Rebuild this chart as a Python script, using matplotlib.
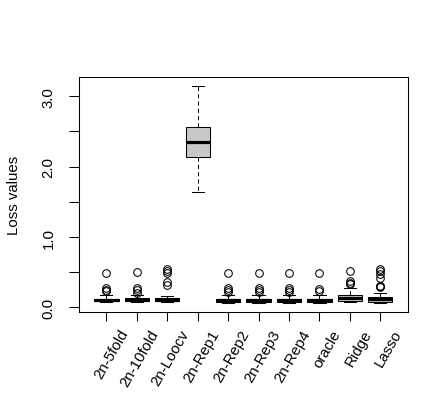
import matplotlib
matplotlib.use("Agg")
import matplotlib.pyplot as plt
import numpy as np

plt.rcParams['font.family'] = ['Liberation Sans', 'DejaVu Sans']

# boxplot summaries (loss values)
methods = ["2n-5fold", "2n-10fold", "2n-Loocv", "2n-Rep1", "2n-Rep2",
           "2n-Rep3", "2n-Rep4", "oracle", "Ridge", "Lasso"]
whis_lo = [0.07, 0.07, 0.07, 1.645, 0.065, 0.065, 0.065, 0.065, 0.07, 0.065]
q1 = [0.085, 0.09, 0.085, 2.14, 0.08, 0.08, 0.08, 0.08, 0.09, 0.08]
medians = [0.10, 0.11, 0.10, 2.355, 0.10, 0.10, 0.10, 0.10, 0.13, 0.115]
q3 = [0.125, 0.13, 0.14, 2.57, 0.12, 0.12, 0.12, 0.12, 0.18, 0.15]
whis_hi = [0.17, 0.18, 0.16, 3.15, 0.17, 0.17, 0.17, 0.17, 0.27, 0.20]
outliers = [
    [0.49, 0.28, 0.25, 0.23],
    [0.50, 0.27, 0.24, 0.21],
    [0.55, 0.52, 0.49, 0.36, 0.32],
    [],
    [0.49, 0.27, 0.24, 0.22],
    [0.49, 0.27, 0.24, 0.22],
    [0.49, 0.27, 0.24, 0.22],
    [0.49, 0.26, 0.23],
    [0.51, 0.38, 0.35, 0.33],
    [0.55, 0.52, 0.48, 0.42, 0.31, 0.30, 0.29],
]

stats = []
for i, name in enumerate(methods):
    stats.append({"label": name, "whislo": whis_lo[i], "q1": q1[i],
                  "med": medians[i], "q3": q3[i], "whishi": whis_hi[i],
                  "fliers": np.array(outliers[i])})

fig = plt.figure(figsize=(4.48, 4.10), dpi=100)
ax = fig.add_axes([79 / 448, 1 - 312.5 / 410, (407.7 - 79) / 448, (312.5 - 78) / 410])

pos = np.arange(1, len(methods) + 1)
lw = 0.75
fs = 10.8
ax.bxp(stats, positions=pos, widths=0.8, patch_artist=True, capwidths=0.4,
       boxprops=dict(facecolor="#C8C8C8", edgecolor="black", linewidth=lw),
       whiskerprops=dict(color="black", linewidth=lw, linestyle=(0, (4, 3))),
       capprops=dict(color="black", linewidth=lw),
       medianprops=dict(color="black", linewidth=2.3, solid_capstyle="butt"),
       flierprops=dict(marker="o", markerfacecolor="none", markeredgecolor="black",
                       markersize=5.5, markeredgewidth=lw))

# R style limits: 4% padding around the data
lo = min(whis_lo)
hi = max(whis_hi)
rng = hi - lo
ax.set_ylim(lo - 0.04 * rng, hi + 0.04 * rng)
ax.set_xlim(0.5 - 0.04 * 10, 10.5 + 0.04 * 10)

yt = np.arange(0, 3.01, 0.5)
ax.set_yticks(yt)
ax.set_yticklabels(["%.1f" % v if abs(v - round(v)) < 1e-9 else "" for v in yt],
                   rotation=90, va="center", fontsize=fs)
ax.tick_params(axis="y", length=7, width=lw, pad=10)
ax.set_xticks(pos)
ax.set_xticklabels([])
ax.tick_params(axis="x", length=6.5, width=lw)
ax.set_ylabel("Loss values", fontsize=fs, labelpad=15)

for s in ax.spines.values():
    s.set_linewidth(lw)

for p, name in zip(pos, methods):
    ax.text(p + 0.6, -0.08, name, transform=ax.get_xaxis_transform(),
            rotation=60, rotation_mode="anchor", ha="right", va="center",
            fontsize=fs)

fig.savefig("out.png", dpi=100)
